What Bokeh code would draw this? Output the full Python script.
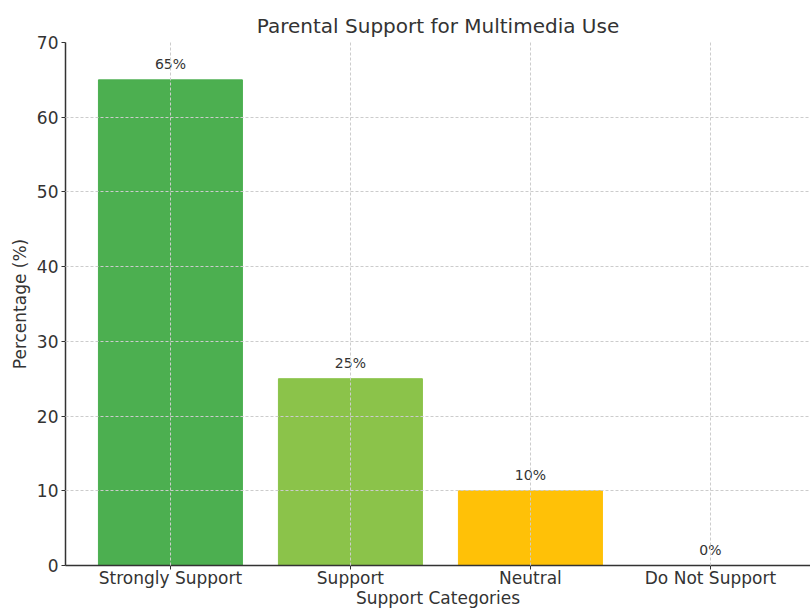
from bokeh.plotting import figure
from bokeh.models import ColumnDataSource, FixedTicker, Range1d
from bokeh.embed import file_html
from bokeh.resources import INLINE

categories = ["Strongly Support", "Support", "Neutral", "Do Not Support"]
percentages = [65, 25, 10, 0]
colors = ["#4CAF50", "#8BC34A", "#FFC107", "#F44336"]
y_ticks = [0, 10, 20, 30, 40, 50, 60, 70]

FONT = "DejaVu Sans"
TXT = "#333333"

xs = list(range(len(categories)))
src = ColumnDataSource(dict(
    x=xs, top=percentages, color=colors,
    label=[f"{v}%" for v in percentages],
    ly=[v + 1 for v in percentages],
))

p = figure(width=810, height=610, output_backend="svg", toolbar_location=None,
           x_range=Range1d(-0.583, 3.556), y_range=Range1d(0, 70),
           min_border_left=65, min_border_right=0, min_border_top=42,
           min_border_bottom=0, title="Parental Support for Multimedia Use")
p.outline_line_color = None
p.background_fill_color = "white"
p.border_fill_color = "white"

p.vbar(x="x", top="top", width=0.8, bottom=0, color="color", source=src)
p.text(x="x", y="ly", text="label", source=src, text_align="center",
       text_baseline="bottom", text_font_size="14px", text_color=TXT,
       text_font={"value": FONT})

p.title.text_font = FONT
p.title.text_font_size = "20px"
p.title.text_font_style = "normal"
p.title.text_color = TXT
p.title.align = "center"

p.xaxis.ticker = FixedTicker(ticks=xs)
p.xaxis.major_label_overrides = {i: c for i, c in enumerate(categories)}
p.yaxis.ticker = FixedTicker(ticks=y_ticks)
p.xaxis.axis_label = "Support Categories"
p.yaxis.axis_label = "Percentage (%)"
for ax in (p.xaxis, p.yaxis):
    ax.axis_label_text_font = FONT
    ax.axis_label_text_font_size = "17px"
    ax.axis_label_text_font_style = "normal"
    ax.axis_label_text_color = TXT
    ax.major_label_text_font = FONT
    ax.major_label_text_font_size = "17px"
    ax.major_label_text_color = TXT
    ax.axis_line_color = "#333333"
    ax.axis_line_width = 1.5
    ax.major_tick_line_color = "#333333"
    ax.major_tick_out = 4
    ax.major_tick_in = 0
    ax.minor_tick_line_color = None
p.xaxis.major_label_standoff = -2
p.xaxis.axis_label_standoff = -3
p.yaxis.major_label_standoff = 3
p.yaxis.axis_label_standoff = 4

p.grid.grid_line_color = "#cccccc"
p.grid.grid_line_dash = "3 2"
p.grid.grid_line_width = 1
p.grid.level = "annotation"

open("out.html", "w").write(file_html(p, INLINE))
